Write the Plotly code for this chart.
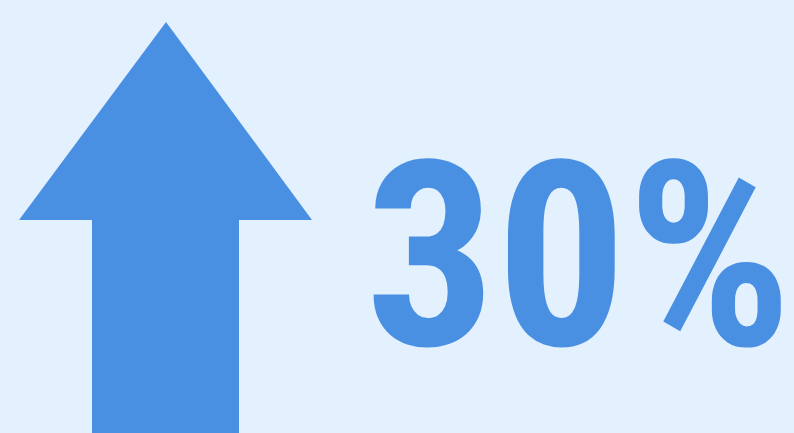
import plotly.graph_objects as go

# Arrow outline (pixel coordinates on a 794x433 canvas)
arrow_x = [166, 312, 239, 239, 92, 92, 19, 166]
arrow_y = [22, 220, 220, 433, 433, 220, 220, 22]

label_text = "30%"
label_x = [578]
label_y = [256]

arrow_color = "#4A90E2"
bg_color = "#E3F0FE"

fig = go.Figure()
fig.add_trace(go.Scatter(
    x=arrow_x, y=arrow_y, mode="lines", fill="toself",
    fillcolor=arrow_color, line=dict(color=arrow_color, width=0),
    hoverinfo="skip", showlegend=False,
))
fig.add_annotation(
    x=label_x[0], y=label_y[0], xref="x", yref="y",
    text="<b>" + label_text + "</b>", showarrow=False,
    xanchor="center", yanchor="middle",
    font=dict(family="Roboto Condensed", size=259, color=arrow_color),
)
fig.update_layout(
    width=794, height=433,
    margin=dict(l=0, r=0, t=0, b=0),
    paper_bgcolor=bg_color, plot_bgcolor=bg_color,
    xaxis=dict(range=[0, 794], visible=False, fixedrange=True),
    yaxis=dict(range=[433, 0], visible=False, fixedrange=True),
    showlegend=False,
)
fig.write_html("out.html", config={"displayModeBar": False},
               post_script="document.body.style.margin='0';document.body.style.background='" + bg_color + "';")
